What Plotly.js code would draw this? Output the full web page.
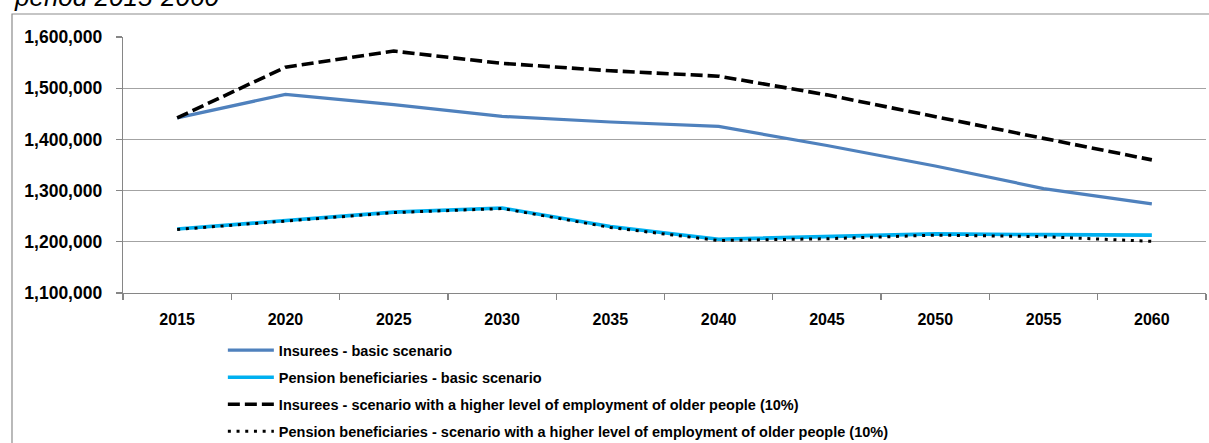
<!DOCTYPE html>
<html>
<head>
<meta charset="utf-8">
<script src="https://cdn.plot.ly/plotly-3.0.1.min.js"></script>
<style>
  html, body { margin: 0; padding: 0; background: #ffffff; }
  #chart { width: 1209px; height: 443px; }
</style>
</head>
<body>
<div id="chart"></div>
<script>
// Projection years
const years = ['2015', '2020', '2025', '2030', '2035', '2040', '2045', '2050', '2055', '2060'];

// Basic scenario
const insureesBasic = [1442000, 1488000, 1468000, 1445000, 1434000, 1425500, 1388000, 1348000, 1304000, 1274000];
const pensionersBasic = [1225000, 1242000, 1258000, 1266000, 1230000, 1205000, 1210000, 1215500, 1214000, 1213000];

// Scenario with a higher level of employment of older people (10%)
const insureesHigher = [1442000, 1541000, 1572500, 1548500, 1534000, 1523500, 1487000, 1444000, 1402000, 1360000];
const pensionersHigher = [1224000, 1241000, 1257000, 1265000, 1228000, 1202500, 1206000, 1213000, 1210000, 1201000];

const seriesNames = [
  'Insurees - basic scenario',
  'Pension beneficiaries - basic scenario',
  'Insurees - scenario with a higher level of employment of older people (10%)',
  'Pension beneficiaries - scenario with a higher level of employment of older people (10%)'
];

const yTicks = [1100000, 1200000, 1300000, 1400000, 1500000, 1600000];

const FONT = 'Liberation Sans, Arial, sans-serif';

const traces = [
  { x: years, y: insureesBasic, name: seriesNames[0], legendgroup: 'a',
    line: { color: '#4f81bd', width: 3.2 } },
  { x: years, y: pensionersBasic, name: seriesNames[1], legendgroup: 'b',
    line: { color: '#00b0f0', width: 3.6 } },
  { x: years, y: insureesHigher, name: seriesNames[2], legendgroup: 'c',
    line: { color: '#000000', width: 3.6, dash: '12px,5px' } },
  { x: years, y: pensionersHigher, name: seriesNames[3], legendgroup: 'd',
    line: { color: '#000000', width: 3, dash: '3px,5.7px' } }
].map(t => Object.assign({ type: 'scatter', mode: 'lines', hoverinfo: 'x+y' }, t));

const layout = {
  width: 1209,
  height: 443,
  margin: { l: 123, r: 3, t: 37, b: 150, pad: 0, autoexpand: false },
  paper_bgcolor: '#ffffff',
  plot_bgcolor: '#ffffff',
  font: { family: FONT, color: '#000000' },
  showlegend: true,
  legend: {
    x: 0.0922, xanchor: 'left',
    y: -0.161, yanchor: 'top',
    orientation: 'v',
    traceorder: 'grouped',
    tracegroupgap: 5.2,
    itemwidth: 46,
    font: { family: FONT, size: 14.5, weight: 'bold', color: '#000000' },
    bgcolor: 'rgba(0,0,0,0)'
  },
  xaxis: {
    type: 'category',
    range: [-0.5, 9.5],
    tickson: 'boundaries',
    showgrid: false,
    showline: true,
    linecolor: '#868686',
    linewidth: 1.3,
    ticks: 'outside',
    ticklen: 6,
    tickcolor: '#868686',
    tickwidth: 1.3,
    ticklabelstandoff: 11,
    tickfont: { family: FONT, size: 16, weight: 'bold', color: '#000000' },
    fixedrange: true
  },
  yaxis: {
    range: [1100000, 1600000],
    tickvals: yTicks,
    tickformat: ',.0f',
    showgrid: true,
    gridcolor: '#a3a3a3',
    gridwidth: 1.3,
    zeroline: false,
    showline: true,
    linecolor: '#868686',
    linewidth: 1.3,
    ticks: 'outside',
    ticklen: 6,
    tickcolor: '#868686',
    tickwidth: 1.3,
    ticklabelstandoff: 10,
    tickfont: { family: FONT, size: 17.5, weight: 'bold', color: '#000000' },
    fixedrange: true
  },
  shapes: [
    // chart frame
    { type: 'rect', xref: 'paper', yref: 'paper',
      x0: (12 - 123) / 1083, x1: (1240 - 123) / 1083,
      y0: (293 - 470) / 256, y1: (293 - 14) / 256,
      line: { color: '#8c8c8c', width: 1.2 }, fillcolor: 'rgba(0,0,0,0)', layer: 'below' }
  ],
  annotations: [
    { xref: 'paper', yref: 'paper', x: (12 - 123) / 1083, xanchor: 'left',
      y: (293 - 14) / 256, yanchor: 'bottom', yshift: 0,
      text: 'period 2015-2060', showarrow: false,
      font: { family: FONT, size: 26, style: 'italic', color: '#000000' } }
  ]
};

Plotly.newPlot('chart', traces, layout, { displayModeBar: false, staticPlot: true });
</script>
</body>
</html>
